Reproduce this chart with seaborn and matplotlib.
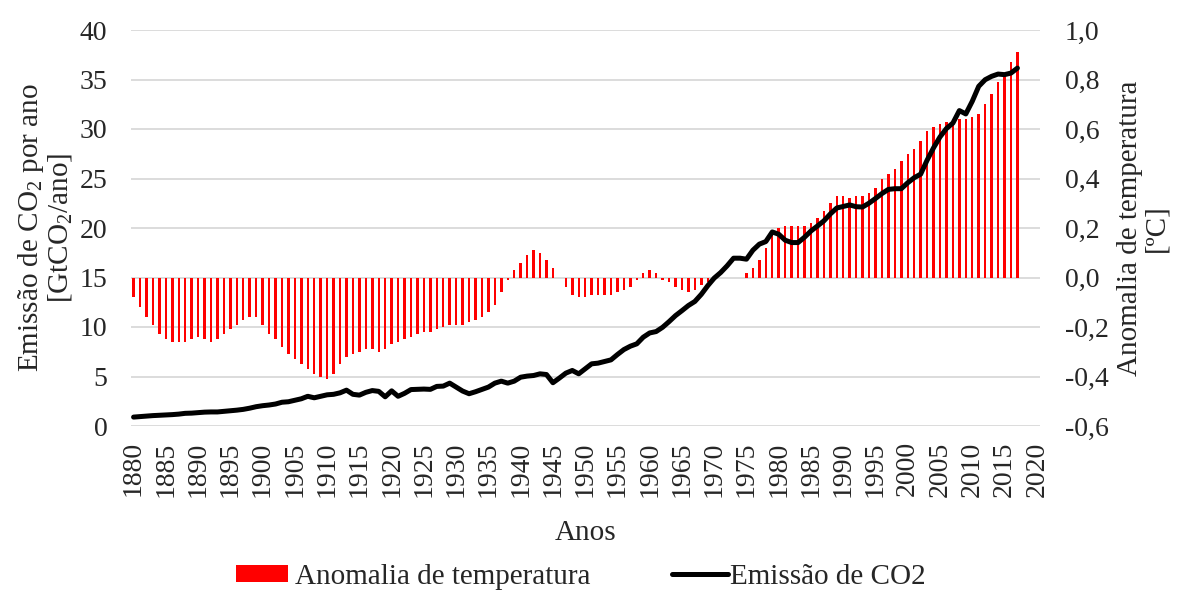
import numpy as np
import pandas as pd
import matplotlib
matplotlib.use("Agg")
import matplotlib.pyplot as plt
import seaborn as sns
from matplotlib.ticker import FixedLocator, FuncFormatter
from matplotlib.patches import Patch
from matplotlib.lines import Line2D

years = list(range(1880, 2018))

temp_anomaly = [
    -0.08, -0.12, -0.16, -0.19, -0.23, -0.25, -0.26, -0.26, -0.26, -0.25,
    -0.24, -0.25, -0.26, -0.25, -0.23, -0.21, -0.19, -0.17, -0.16, -0.16,
    -0.19, -0.23, -0.25, -0.28, -0.31, -0.33, -0.35, -0.37, -0.39, -0.40,
    -0.41, -0.39, -0.35, -0.32, -0.31, -0.30, -0.29, -0.29, -0.30, -0.29,
    -0.27, -0.26, -0.25, -0.24, -0.23, -0.22, -0.22, -0.21, -0.20, -0.19,
    -0.19, -0.19, -0.18, -0.17, -0.16, -0.14, -0.11, -0.06, -0.01, 0.03,
    0.06, 0.09, 0.11, 0.10, 0.07, 0.04, 0.00, -0.04, -0.07, -0.08,
    -0.08, -0.07, -0.07, -0.07, -0.07, -0.06, -0.05, -0.04, -0.01, 0.02,
    0.03, 0.02, -0.01, -0.02, -0.04, -0.05, -0.06, -0.05, -0.03, -0.02,
    -0.01, 0.00, 0.00, 0.00, 0.00, 0.02, 0.04, 0.07, 0.12, 0.19,
    0.20, 0.21, 0.21, 0.21, 0.21, 0.22, 0.24, 0.27, 0.30, 0.33,
    0.33, 0.32, 0.33, 0.33, 0.34, 0.36, 0.40, 0.42, 0.44, 0.47,
    0.50, 0.52, 0.55, 0.59, 0.61, 0.62, 0.63, 0.63, 0.64, 0.64,
    0.65, 0.66, 0.70, 0.74, 0.79, 0.81, 0.87, 0.91,
]

co2_emission = [
    0.90, 0.95, 1.00, 1.05, 1.08, 1.10, 1.15, 1.20, 1.28, 1.30,
    1.35, 1.40, 1.42, 1.42, 1.48, 1.55, 1.60, 1.68, 1.80, 1.95,
    2.05, 2.12, 2.22, 2.40, 2.45, 2.60, 2.75, 3.00, 2.85, 3.00,
    3.15, 3.20, 3.35, 3.62, 3.20, 3.12, 3.40, 3.58, 3.50, 2.95,
    3.55, 3.00, 3.30, 3.68, 3.70, 3.73, 3.70, 4.00, 4.03, 4.33,
    3.93, 3.53, 3.26, 3.46, 3.70, 3.93, 4.33, 4.53, 4.33, 4.53,
    4.93, 5.04, 5.10, 5.27, 5.20, 4.37, 4.84, 5.34, 5.61, 5.27,
    5.78, 6.28, 6.35, 6.52, 6.68, 7.22, 7.72, 8.06, 8.30, 8.97,
    9.40, 9.54, 9.97, 10.54, 11.15, 11.65, 12.17, 12.58, 13.30, 14.17,
    14.94, 15.50, 16.18, 16.95, 16.95, 16.85, 17.76, 18.37, 18.63, 19.60,
    19.37, 18.77, 18.53, 18.53, 19.07, 19.70, 20.20, 20.72, 21.42, 22.02,
    22.18, 22.33, 22.15, 22.12, 22.51, 22.98, 23.48, 23.90, 23.97, 23.97,
    24.57, 25.08, 25.44, 26.85, 28.10, 29.20, 30.05, 30.60, 31.86, 31.52,
    32.80, 34.31, 34.98, 35.32, 35.55, 35.49, 35.65, 36.15,
]

x_tick_years = list(range(1880, 2021, 5))
left_ticks = list(range(0, 41, 5))
right_ticks = [-0.6, -0.4, -0.2, 0.0, 0.2, 0.4, 0.6, 0.8, 1.0]

label_left = "Emissão de CO$_\\mathregular{2}$ por ano\n[GtCO$_\\mathregular{2}$/ano]"
label_right = "Anomalia de temperatura\n[ºC]"
label_x = "Anos"
legend_bar = "Anomalia de temperatura"
legend_line = "Emissão de CO2"

df = pd.DataFrame({"ano": years, "temp": temp_anomaly, "co2": co2_emission})

sns.set_theme(style="white")
plt.rcParams["font.family"] = ["Liberation Serif", "DejaVu Serif"]
plt.rcParams["mathtext.fontset"] = "custom"
plt.rcParams["mathtext.rm"] = "Liberation Serif"
plt.rcParams["mathtext.it"] = "Liberation Serif:italic"

FS_TICK = 20
FS_LAB = 21
FS_LEG = 21

fig = plt.figure(figsize=(11.77, 5.93), dpi=100)
ax = fig.add_axes([131 / 1177, 1 - 426 / 593, 909 / 1177, 396 / 593])
ax2 = ax.twinx()

# bars on right axis (behind), line on left axis (front)
ax.set_zorder(2)
ax2.set_zorder(1)
ax.patch.set_visible(False)

sns.barplot(data=df, x="ano", y="temp", native_scale=True, color="#ff0000",
            saturation=1, width=0.38, ax=ax2, linewidth=0)
sns.lineplot(data=df, x="ano", y="co2", color="black", linewidth=3.6,
             ax=ax, solid_capstyle="round", solid_joinstyle="round")

ax.set_xlim(1879.6, 2020.5)
ax2.set_xlim(1879.6, 2020.5)
ax.set_ylim(0, 40)
ax2.set_ylim(-0.6, 1.0)

ax.yaxis.set_major_locator(FixedLocator(left_ticks))
ax2.yaxis.set_major_locator(FixedLocator(right_ticks))
ax2.yaxis.set_major_formatter(FuncFormatter(lambda v, p: f"{v:.1f}".replace(".", ",").replace("-0,0", "0,0")))
ax.xaxis.set_major_locator(FixedLocator(x_tick_years))
ax.set_xticklabels([str(y) for y in x_tick_years], rotation=90)

ax2.grid(axis="y", color="#d9d9d9", linewidth=1.3)
ax2.set_axisbelow(True)
ax.grid(False)
ax2.xaxis.set_visible(False)

for a in (ax, ax2):
    for s in a.spines.values():
        s.set_visible(False)
    a.tick_params(length=0)

ax.tick_params(axis="y", labelsize=FS_TICK, pad=17)
ax.tick_params(axis="x", labelsize=FS_TICK, pad=11)
ax2.tick_params(axis="y", labelsize=FS_TICK, pad=18)

ax.set_xlabel(label_x, fontsize=FS_LAB, labelpad=17)
ax.set_ylabel(label_left, fontsize=FS_LAB, linespacing=1.0)
ax2.set_ylabel(label_right, fontsize=FS_LAB, linespacing=1.0)
ax.yaxis.label.set_verticalalignment("center")
ax2.yaxis.label.set_verticalalignment("center")
ax.yaxis.set_label_coords(-0.0941, 0.5)
ax2.yaxis.set_label_coords(1.1135, 0.5)

leg_y = 1 - 577 / 593
fig.legend([Patch(facecolor="#ff0000", edgecolor="none")], [legend_bar],
           loc="center left", bbox_to_anchor=(236 / 1177, leg_y), frameon=False,
           fontsize=FS_LEG, handlelength=1.78, handleheight=0.52,
           handletextpad=0.25, borderpad=0, borderaxespad=0)
fig.legend([Line2D([0], [0], color="black", linewidth=3.6)], [legend_line],
           loc="center left", bbox_to_anchor=(672 / 1177, leg_y), frameon=False,
           fontsize=FS_LEG, handlelength=1.92, handletextpad=0.08,
           borderpad=0, borderaxespad=0)

fig.savefig("out.png", dpi=100)
